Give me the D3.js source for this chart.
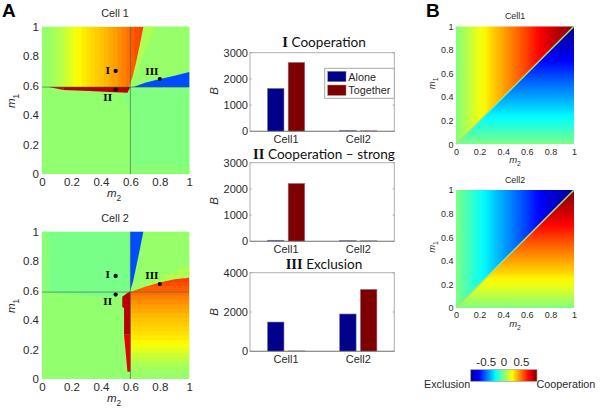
<!DOCTYPE html>
<html><head><meta charset="utf-8">
<script src="https://cdnjs.cloudflare.com/ajax/libs/d3/7.8.5/d3.min.js"></script>
<style>html,body{margin:0;background:#fff}svg{display:block}text{font-family:"Liberation Sans",Arial,sans-serif;fill:#2a2a2a}</style>
</head><body><svg id="c" width="600" height="416"></svg>
<script>
// ---------- data (all in data units) ----------
const mTicks=[0,0.2,0.4,0.6,0.8,1];
const jetStops=[-1,-0.75,-0.25,0.25,0.75,1];
const jetColors=["#00008f","#0000ff","#00ffff","#ffff00","#ff0000","#800000"];
const barCats=["Cell1","Cell2"];
const barSeries=["Alone","Together"];
const barColors=["#00008b","#7f0000"];
const cooperationAlone=[1640,30];
const cooperationTogether=[2630,20];
const strongAlone=[40,30];
const strongTogether=[2210,20];
const exclusionAlone=[1490,1900];
const exclusionTogether=[20,3155];
const points=[{n:"I",m2:0.5,m1:0.7},{n:"II",m2:0.5,m1:0.573},{n:"III",m2:0.8,m1:0.645}];
// band values across the cooperation surface, one per 0.03 of m
const surfaceBands=[0.04,0.05,0.07,0.09,0.12,0.15,0.19,0.23,0.26,0.29,0.31,0.33,0.35,0.37,0.39,0.42,0.44,0.47,0.5,0.53,0.57,0.6,0.63,0.66];
// Panel A, cell 1 regions [m2,m1]
const c1Orange=[[0,1],[0.688,1],[0.665,0.885],[0.642,0.774],[0.615,0.66],[0.59,0.59],[0,0.59]];
const c1Wedge=[[0.6,0.59],[0.688,1],[0.77,1]];
const c1Blue=[[0.62,0.59],[0.7,0.62],[0.8,0.645],[0.9,0.667],[1,0.692],[1,0.59]];
const c1Dark=[[0.145,0.59],[0.6,0.59],[0.58,0.552],[0.46,0.556],[0.28,0.565],[0.145,0.57]];
const c1Red=[[0.047,0.59],[0.145,0.59],[0.145,0.57]];
const c1Sliver=[[0.555,0.552],[0.6,0.59],[0.6,0.42]];
// Panel A, cell 2 regions [m2,m1]
const c2Orange=[[1,0],[1,0.688],[0.9,0.677],[0.8,0.655],[0.7,0.627],[0.6,0.59],[0.6,0]];
const c2Wedge=[[0.6,0.59],[1,0.688],[1,0.775]];
const c2Blue=[[0.6,0.6],[0.6,1],[0.688,1],[0.665,0.885],[0.642,0.774],[0.62,0.67]];
const c2Dark=[[0.6,0.595],[0.6,0.3],[0.557,0.3],[0.557,0.48],[0.545,0.49],[0.545,0.559],[0.575,0.58]];
const c2Red=[[0.6,0.3],[0.6,0.05],[0.58,0.05],[0.57,0.163],[0.557,0.3]];
const c2Sliver=[[0,0.59],[0.6,0.59],[0.45,0.56],[0.3,0.565]];
// Panel B profile, value magnitude every 0.05 of m
const profile=[0,0.06,0.11,0.17,0.22,0.27,0.33,0.38,0.43,0.48,0.53,0.58,0.63,0.69,0.74,0.79,0.84,0.88,0.92,0.96,1];
const cbTicks=[-0.5,0,0.5];
// ---------- drawing ----------
const svg=d3.select("#c"), defs=svg.append("defs");
const jet=d3.scaleLinear().domain(jetStops).range(jetColors).clamp(true);
let uid=0;
function mLabel(g,x,y,sub,size,rot){
  const t=g.append("text").attr("text-anchor","middle").attr("font-size",size)
    .attr("transform",`translate(${x},${y})`+(rot?" rotate(-90)":""));
  t.append("tspan").attr("font-style","italic").text("m");
  t.append("tspan").attr("font-size",size*0.72).attr("dy",size*0.32).text(sub);
}
function mapFrame(x0,y0,w,h){
  return {x:d3.scaleLinear().domain([0,1]).range([x0,x0+w]),y:d3.scaleLinear().domain([0,1]).range([y0+h,y0])};
}
function axes(s,fs,xdy,ydx){
  const f=d=>d===0||d===1?String(d):d3.format(".1f")(d);
  const gx=svg.append("g").attr("transform",`translate(0,${s.y(0)})`)
    .call(d3.axisBottom(s.x).tickValues(mTicks).tickSize(0).tickFormat(f));
  const gy=svg.append("g").attr("transform",`translate(${s.x(0)},0)`)
    .call(d3.axisLeft(s.y).tickValues(mTicks).tickSize(0).tickFormat(f));
  [gx,gy].forEach(g=>{g.select(".domain").remove();g.selectAll("text").attr("font-size",fs);});
  gx.selectAll("text").attr("y",xdy);
  gy.selectAll("text").attr("x",-ydx);
}
function pathOf(s,pts){return d3.line().x(d=>s.x(d[0])).y(d=>s.y(d[1]))(pts)+"Z";}
function poly(s,pts,value){return svg.append("path").attr("d",pathOf(s,pts)).attr("fill",jet(value));}
function rect(s,a,b,c,d,v){ // m2 a..b, m1 c..d
  svg.append("rect").attr("x",s.x(a)).attr("width",s.x(b)-s.x(a)).attr("y",s.y(d)).attr("height",s.y(c)-s.y(d)).attr("fill",jet(v));
}
function bands(s,region,horizontal){
  const id="clip"+(uid++), step=0.03;
  defs.append("clipPath").attr("id",id).append("path").attr("d",pathOf(s,region));
  const g=svg.append("g").attr("clip-path",`url(#${id})`);
  g.selectAll("rect").data(surfaceBands).join("rect").attr("fill",d=>jet(d)).each(function(v,i){
    const q0=i*step, q1=q0+step, sel=d3.select(this);
    if(horizontal) sel.attr("x",s.x(0)).attr("width",s.x(1)-s.x(0)).attr("y",s.y(q1)).attr("height",s.y(q0)-s.y(q1)+0.5);
    else sel.attr("y",s.y(1)).attr("height",s.y(0)-s.y(1)).attr("x",s.x(q0)).attr("width",s.x(q1)-s.x(q0)+0.5);
  });
}
function marks(s,off){
  svg.append("line").attr("x1",s.x(0.6)).attr("x2",s.x(0.6)).attr("y1",s.y(0)).attr("y2",s.y(1)).attr("stroke","#4a5a4a").attr("stroke-opacity",0.6);
  svg.append("line").attr("x1",s.x(0)).attr("x2",s.x(1)).attr("y1",s.y(0.59)).attr("y2",s.y(0.59)).attr("stroke","#4a5a4a").attr("stroke-opacity",0.6);
  points.forEach(p=>{
    svg.append("circle").attr("cx",s.x(p.m2)).attr("cy",s.y(p.m1)).attr("r",2.1).attr("fill","#000");
    svg.append("text").attr("x",s.x(p.m2)-8).attr("y",s.y(p.m1)+off[p.n]).attr("text-anchor","middle")
      .attr("font-weight","bold").attr("font-size",11.3).style("font-family",'"Liberation Serif"').style("fill","#000").text(p.n);
  });
}
// Panel A cell 1
{
  const s=mapFrame(42,26.7,147.3,147.3);
  rect(s,0,1,0,1,0.035);
  rect(s,0.6,1,0.59,1,0.045);
  rect(s,0.6,1,0,0.59,0.0);
  rect(s,0.6,1,0,0.06,0.02);
  poly(s,c1Sliver,0.0);
  poly(s,c1Wedge,0.09);
  bands(s,c1Orange,false);
  poly(s,c1Blue,-0.6);
  poly(s,c1Red,0.8);
  poly(s,c1Dark,0.89);
  marks(s,{I:3.5,II:11.5,III:-3.5});
  axes(s,11.5,4,3);
  mLabel(svg,114,197,"2",11.5,false);
  mLabel(svg,15,101,"1",11.5,true);
  svg.append("text").attr("x",115).attr("y",17).attr("text-anchor","middle").attr("font-size",10.8).text("Cell 1");
}
// Panel A cell 2
{
  const s=mapFrame(42,231.7,147.3,147.3);
  rect(s,0,1,0,0.59,0.035);
  rect(s,0,0.6,0.59,1,-0.015);
  rect(s,0,0.05,0.59,1,0.015);
  rect(s,0.6,1,0.59,1,0.045);
  poly(s,c2Sliver,-0.015);
  poly(s,c2Wedge,0.09);
  bands(s,c2Orange,true);
  poly(s,c2Blue,-0.6);
  poly(s,c2Red,0.8);
  poly(s,c2Dark,0.89);
  marks(s,{I:2.5,II:10.5,III:-5});
  axes(s,11.5,4,3);
  mLabel(svg,114,402,"2",11.5,false);
  mLabel(svg,15,306,"1",11.5,true);
  svg.append("text").attr("x",115).attr("y",222).attr("text-anchor","middle").attr("font-size",10.8).text("Cell 2");
}
// Panel B
function grad(dirX,sign){
  const id="g"+(uid++);
  const g=defs.append("linearGradient").attr("id",id);
  if(dirX) g.attr("x1",0).attr("y1",0).attr("x2",1).attr("y2",0); else g.attr("x1",0).attr("y1",1).attr("x2",0).attr("y2",0);
  g.selectAll("stop").data(profile).join("stop").attr("offset",(d,i)=>i/(profile.length-1)).attr("stop-color",d=>jet(sign*d));
  return id;
}
function triPanel(y0,upperSign,title,titleY){
  const s=mapFrame(456,y0,118,118);
  const gu=grad(true,upperSign), gl=grad(false,-upperSign);
  const c1="t"+(uid++), c2="t"+(uid++);
  defs.append("clipPath").attr("id",c1).append("path").attr("d",pathOf(s,[[0,0],[1,1],[0,1]]));
  defs.append("clipPath").attr("id",c2).append("path").attr("d",pathOf(s,[[0,0],[1,1],[1,0]]));
  svg.append("rect").attr("x",s.x(0)).attr("y",s.y(1)).attr("width",118).attr("height",118).attr("fill",`url(#${gu})`).attr("clip-path",`url(#${c1})`);
  svg.append("rect").attr("x",s.x(0)).attr("y",s.y(1)).attr("width",118).attr("height",118).attr("fill",`url(#${gl})`).attr("clip-path",`url(#${c2})`);
  svg.append("line").attr("x1",s.x(0)).attr("y1",s.y(0)).attr("x2",s.x(1)).attr("y2",s.y(1)).attr("stroke","#a0e878").attr("stroke-width",1.5);
  axes(s,9,4,2.5);
  mLabel(svg,515,y0+137,"2",9.5,false);
  mLabel(svg,435,y0+57,"1",9.5,true);
  svg.append("text").attr("x",515).attr("y",titleY).attr("text-anchor","middle").attr("font-size",8.9).text(title);
}
triPanel(26.3,1,"Cell1",19);
triPanel(190,-1,"Cell2",183);
// Colorbar
{
  const cb=d3.scaleLinear().domain([-1,1]).range([470.7,537]);
  const g=defs.append("linearGradient").attr("id","cbg");
  g.selectAll("stop").data(jetStops).join("stop").attr("offset",d=>(d+1)/2).attr("stop-color",d=>jet(d));
  svg.append("rect").attr("x",cb(-1)).attr("y",369.7).attr("width",cb(1)-cb(-1)).attr("height",11.6).attr("fill","url(#cbg)").attr("stroke","#999").attr("stroke-width",0.7);
  svg.selectAll(".cbt").data(cbTicks).join("text").attr("class","cbt").attr("x",d=>cb(d)+(d<0?-1:d>0?1:0)).attr("y",366).attr("text-anchor","middle").attr("font-size",11.5).text(d=>d===0?"0":d);
  svg.append("text").attr("x",424).attr("y",388).attr("font-size",10.8).text("Exclusion");
  svg.append("text").attr("x",536.5).attr("y",388).attr("font-size",10.8).text("Cooperation");
}
// Bars
function barPanel(top,bottom,maxV,ticks,alone,together,roman,label,titleY,bLabelY){
  const x=d3.scaleBand().domain(barCats).range([250,394.3]);
  const inner=d3.scaleBand().domain(barSeries).range([-18.7,18.7]).paddingInner(0.2);
  const y=d3.scaleLinear().domain([0,maxV]).range([bottom,top]);
  const gy=svg.append("g").attr("transform","translate(250,0)").call(d3.axisLeft(y).tickValues(ticks).tickSize(0).tickPadding(2).tickFormat(d3.format("d")));
  gy.select(".domain").remove();
  gy.selectAll("text").attr("font-size",11);
  svg.append("rect").attr("x",250).attr("y",top).attr("width",144.3).attr("height",bottom-top).attr("fill","none").attr("stroke","#b0b0b0");
  ticks.forEach(t=>{
    svg.append("line").attr("x1",250).attr("x2",251.5).attr("y1",y(t)).attr("y2",y(t)).attr("stroke","#999");
    svg.append("line").attr("x1",392.8).attr("x2",394.3).attr("y1",y(t)).attr("y2",y(t)).attr("stroke","#999");
  });
  [[alone,0],[together,1]].forEach(([vals,k])=>{
    svg.selectAll(null).data(vals).join("rect")
      .attr("x",(d,i)=>x(barCats[i])+x.bandwidth()/2+inner(barSeries[k]))
      .attr("width",inner.bandwidth()).attr("y",d=>y(d)).attr("height",d=>y(0)-y(d))
      .attr("fill",barColors[k]).attr("stroke","#8a8a9a").attr("stroke-width",0.6);
  });
  svg.append("line").attr("x1",250).attr("x2",394.3).attr("y1",bottom).attr("y2",bottom).attr("stroke","#888");
  const gx=svg.append("g").attr("transform",`translate(0,${bottom})`).call(d3.axisBottom(x).tickSize(0).tickPadding(4));
  gx.select(".domain").remove();
  gx.selectAll("text").attr("font-size",11);
  const t=svg.append("text").attr("x",324).attr("y",titleY).attr("text-anchor","middle").style("font-family","Lato").attr("font-size",13.6).style("fill","#111");
  t.append("tspan").style("font-family",'"Liberation Serif"').attr("font-weight","bold").attr("font-size",14.5).text(roman+" ");
  t.append("tspan").text(label);
  svg.append("text").attr("transform",`translate(218,${bLabelY}) rotate(-90)`).attr("text-anchor","middle").attr("font-size",11.5).attr("font-style","italic").text("B");
}
barPanel(52.7,131.3,3000,[0,1000,2000,3000],cooperationAlone,cooperationTogether,"I","Cooperation",46.7,91);
barPanel(162.7,241.3,3000,[0,1000,2000,3000],strongAlone,strongTogether,"II","Cooperation \u2013 strong",159.2,201);
barPanel(272.7,351.3,4000,[0,2000,4000],exclusionAlone,exclusionTogether,"III","Exclusion",269,312);
// Legend
{
  svg.append("rect").attr("x",324.7).attr("y",68.3).attr("width",69.6).attr("height",30).attr("fill","#fff").attr("stroke","#a8a8a8");
  barSeries.forEach((n,i)=>{
    svg.append("rect").attr("x",327.7).attr("y",71.3+i*13.7).attr("width",18.3).attr("height",10.4).attr("fill",barColors[i]).attr("stroke","#8a8a9a").attr("stroke-width",0.5);
    svg.append("text").attr("x",348.3).attr("y",80.5+i*13.6).attr("font-size",10.8).text(n);
  });
}
// Panel letters
[["A",2],["B",426]].forEach(([t,x])=>svg.append("text").attr("x",x).attr("y",17.4).attr("font-size",19).attr("font-weight","bold").style("fill","#000").text(t));
</script></body></html>
